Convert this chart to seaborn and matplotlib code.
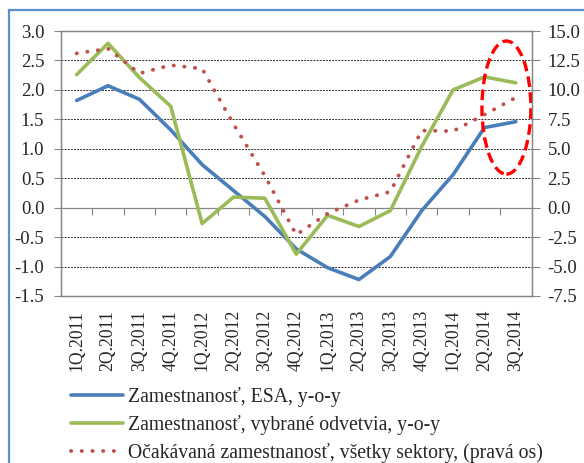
import numpy as np
import pandas as pd
import matplotlib
matplotlib.use("Agg")
import matplotlib.pyplot as plt
from matplotlib.patches import Ellipse, Rectangle
import seaborn as sns

quarters = ["1Q.2011", "2Q.2011", "3Q.2011", "4Q.2011",
            "1Q.2012", "2Q.2012", "3Q.2012", "4Q.2012",
            "1Q.2013", "2Q.2013", "3Q.2013", "4Q.2013",
            "1Q.2014", "2Q.2014", "3Q.2014"]
esa = [1.82, 2.07, 1.84, 1.32, 0.73, 0.29, -0.15, -0.70, -1.02, -1.22, -0.83, -0.05, 0.56, 1.36, 1.46]
sectors = [2.26, 2.79, 2.21, 1.72, -0.27, 0.18, 0.16, -0.79, -0.13, -0.32, -0.05, 1.04, 2.00, 2.22, 2.12]
expected = [13.1, 13.5, 11.4, 12.1, 11.8, 7.1, 2.7, -2.3, -0.5, 0.65, 1.35, 6.55, 6.5, 7.9, 9.35]

labels = ["Zamestnanosť, ESA, y-o-y",
          "Zamestnanosť, vybrané odvetvia, y-o-y",
          "Očakávaná zamestnanosť, všetky sektory, (pravá os)"]

left_ticks = [-1.5, -1.0, -0.5, 0.0, 0.5, 1.0, 1.5, 2.0, 2.5, 3.0]
right_ticks = [-7.5, -5.0, -2.5, 0.0, 2.5, 5.0, 7.5, 10.0, 12.5, 15.0]

df = pd.DataFrame({"x": np.arange(len(quarters)), "q": quarters,
                   "esa": esa, "sectors": sectors, "expected": expected})

sns.set_style("white")
plt.rcParams["font.family"] = ["Liberation Serif", "DejaVu Serif"]
plt.rcParams["font.size"] = 13

W, H = 584, 463
fig = plt.figure(figsize=(W / 100, H / 100), dpi=100)
L, R, T, B = 61, 531.5, 31, 296
ax = fig.add_axes([L / W, 1 - B / H, (R - L) / W, (B - T) / H])
ax2 = ax.twinx()

blue = "#4A7EBB"
green = "#9BBB59"
red = "#C0504D"
grey = "#868686"

sns.lineplot(data=df, x="x", y="esa", ax=ax, color=blue, lw=2.6, sort=False, label=labels[0], legend=False)
sns.lineplot(data=df, x="x", y="sectors", ax=ax, color=green, lw=2.6, sort=False, label=labels[1], legend=False)
sns.lineplot(data=df, x="x", y="expected", ax=ax2, color=red, lw=2.8, sort=False, label=labels[2], legend=False,
             linestyle=(0, (0.05, 2.7)), dash_capstyle="round")

ax.set_xlim(-0.5, len(quarters) - 0.5)
ax.set_ylim(left_ticks[0], left_ticks[-1])
ax2.set_ylim(right_ticks[0], right_ticks[-1])
ax.set_yticks(left_ticks)
ax.set_yticklabels([f"{v:.1f}" for v in left_ticks], fontsize=13.5)
ax2.set_yticks(right_ticks)
ax2.set_yticklabels([f"{v:.1f}" for v in right_ticks], fontsize=13.5)

ax.set_xticks(df["x"])
ax.set_xticklabels(quarters, rotation=90, fontsize=12.7)
ax.tick_params(axis="x", length=0, pad=10)
ax.tick_params(axis="y", direction="out", length=5, width=0.8, color=grey, pad=7, left=True)
ax2.tick_params(axis="y", direction="out", length=5.7, width=0.8, color=grey, pad=5.8, right=True)
ax.set_xlabel("")
ax.set_ylabel("")
ax2.set_ylabel("")

for a in (ax, ax2):
    for s in a.spines.values():
        s.set_color(grey)
        s.set_linewidth(0.9)

# gridlines
for v in left_ticks[1:-1]:
    if v != 0:
        ax.axhline(v, color="#303030", lw=0.7, ls=(0, (2.0, 1.2)), zorder=0)

# zero axis with category boundary ticks
zero_pos = (0 - left_ticks[0]) / (left_ticks[-1] - left_ticks[0])
sec = ax.secondary_xaxis(zero_pos)
sec.set_xticks(np.arange(0.5, len(quarters) - 1, 1.0))
sec.tick_params(axis="x", direction="out", length=5, width=0.8, color=grey, labelbottom=False, labeltop=False,
                bottom=True, top=False)
sec.xaxis.set_ticks_position("bottom")
sec.set_xticklabels([])
for s in sec.spines.values():
    s.set_color(grey)
    s.set_linewidth(0.9)

# highlight ellipse
ell = Ellipse((13.7, 1.70), width=1.56, height=2.26, fill=False, edgecolor="#FF0000",
              lw=2.4, ls=(0, (3.2, 1.6)), zorder=5)
ax.add_patch(ell)

# legend
h1, l1 = ax.get_legend_handles_labels()
h2, l2 = ax2.get_legend_handles_labels()
fig.legend(h1 + h2, l1 + l2, loc="upper left", bbox_to_anchor=(71 / W, 1 - 387 / H),
           bbox_transform=fig.transFigure, frameon=False, borderpad=0, borderaxespad=0,
           handlelength=2.63, handletextpad=0.26, labelspacing=0.40, fontsize=14.2)

# outer chart frame
fig.patches.append(Rectangle((9 / W, -0.05), 1.2, 1 - 10 / H + 0.05, transform=fig.transFigure,
                             fill=False, edgecolor="#5B8FD0", lw=1.6, clip_on=False))

fig.savefig("out.png", dpi=100)
